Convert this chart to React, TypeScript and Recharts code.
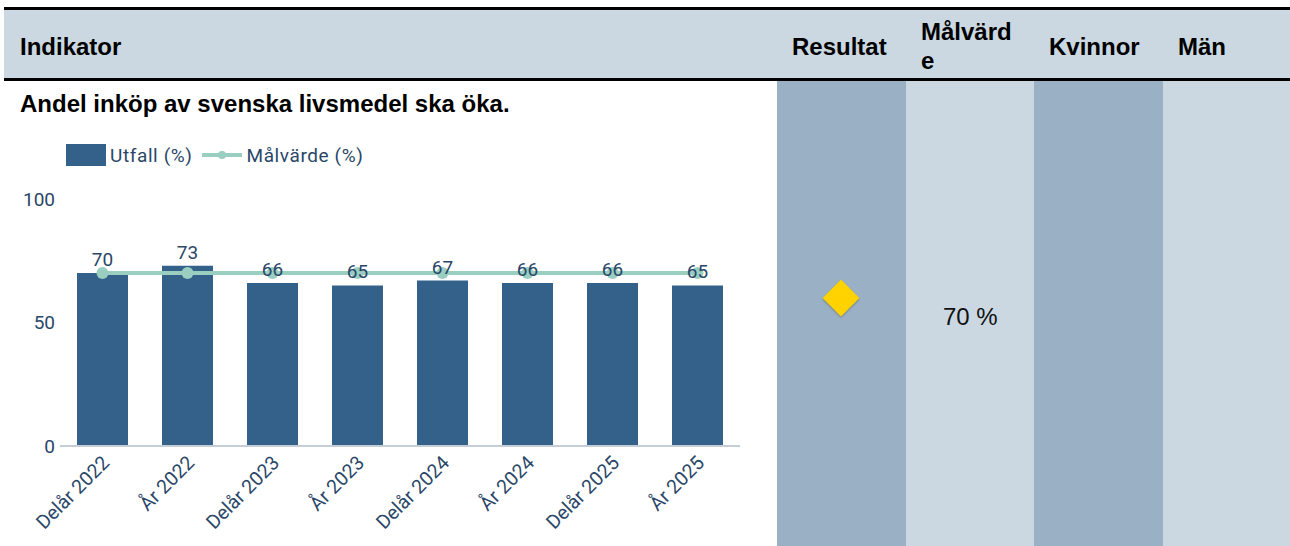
import React from "react";
import {
  Bar,
  ComposedChart,
  LabelList,
  Legend,
  Line,
  XAxis,
  YAxis,
} from "recharts";

// Utfall och målvärde per period (procent)
const perioder = [
  "Delår 2022",
  "År 2022",
  "Delår 2023",
  "År 2023",
  "Delår 2024",
  "År 2024",
  "Delår 2025",
  "År 2025",
];
const utfall = [70, 73, 66, 65, 67, 66, 66, 65];
const malvarde = [70, 70, 70, 70, 70, 70, 70, 70];
const yTicks = [0, 50, 100];

const data = perioder.map((p, i) => ({
  period: p,
  utfall: utfall[i],
  malvarde: malvarde[i],
}));

const BAR = "#33618a";
const LINE = "#99cec1";
const TEXT = "#2a4768";
const CHART_FONT = "Roboto, sans-serif";

const ROW_BG = "#cbd8e1";
const COL_DARK = "#9ab0c4";

function TickRot(props: any) {
  const { x, y, payload } = props;
  const tx = x + 8;
  const ty = y + 18;
  return (
    <text
      x={tx}
      y={ty}
      textAnchor="end"
      fill={TEXT}
      fontSize={19.5}
      fontFamily={CHART_FONT}
      transform={`rotate(-45, ${tx}, ${ty})`}
    >
      {payload.value}
    </text>
  );
}

function LegendContent() {
  const txt: React.CSSProperties = {
    fontFamily: CHART_FONT,
    fontSize: 19,
    color: TEXT,
    letterSpacing: 0.6,
  };
  return (
    <div style={{ display: "flex", alignItems: "center", height: 22 }}>
      <span style={{ width: 40, height: 22, background: BAR, display: "inline-block" }} />
      <span style={{ ...txt, marginLeft: 4 }}>Utfall (%)</span>
      <svg width={40} height={22} style={{ marginLeft: 10 }}>
        <line x1={0} y1={11} x2={40} y2={11} stroke={LINE} strokeWidth={4} />
        <circle cx={20} cy={11} r={4} fill={LINE} />
      </svg>
      <span style={{ ...txt, marginLeft: 4 }}>Målvärde (%)</span>
    </div>
  );
}

const head: React.CSSProperties = {
  position: "absolute",
  fontWeight: "bold",
  fontSize: 24,
  color: "#000",
  lineHeight: "29px",
  whiteSpace: "nowrap",
};

export default function App() {
  return (
    <div
      style={{
        position: "absolute",
        left: 0,
        top: 0,
        width: 1290,
        height: 546,
        overflow: "hidden",
        background: "#fff",
        fontFamily: "'Liberation Sans', Arial, sans-serif",
      }}
    >
      {/* tabellhuvud */}
      <div style={{ position: "absolute", left: 4, right: 0, top: 7, height: 3, background: "#000" }} />
      <div style={{ position: "absolute", left: 4, right: 0, top: 10, height: 68, background: ROW_BG }} />
      <div style={{ position: "absolute", left: 4, right: 0, top: 78, height: 3, background: "#000" }} />
      <div style={{ ...head, left: 20, top: 32 }}>Indikator</div>
      <div style={{ ...head, left: 792, top: 32 }}>Resultat</div>
      <div style={{ ...head, left: 921, top: 17, whiteSpace: "normal", width: 94, wordBreak: "break-all" }}>
        Målvärde
      </div>
      <div style={{ ...head, left: 1049, top: 32 }}>Kvinnor</div>
      <div style={{ ...head, left: 1178, top: 32 }}>Män</div>

      {/* kolumner */}
      <div style={{ position: "absolute", left: 777, width: 129, top: 81, bottom: 0, background: COL_DARK }} />
      <div style={{ position: "absolute", left: 906, width: 128, top: 81, bottom: 0, background: ROW_BG }} />
      <div style={{ position: "absolute", left: 1034, width: 129, top: 81, bottom: 0, background: COL_DARK }} />
      <div style={{ position: "absolute", left: 1163, width: 127, top: 81, bottom: 0, background: ROW_BG }} />

      <div
        style={{
          position: "absolute",
          left: 828,
          top: 285,
          width: 26,
          height: 26,
          background: "#ffd200",
          transform: "rotate(45deg)",
          boxShadow: "1px 1px 2px rgba(90,90,60,0.45)",
        }}
      />
      <div style={{ position: "absolute", left: 943, top: 303, fontSize: 24, color: "#111", whiteSpace: "nowrap" }}>
        70 %
      </div>

      <div style={{ ...head, left: 20, top: 89 }}>Andel inköp av svenska livsmedel ska öka.</div>

      <div style={{ position: "absolute", left: 0, top: 130 }}>
        <ComposedChart
          width={760}
          height={416}
          data={data}
          margin={{ top: 69, right: 20, left: 0, bottom: 10 }}
          barCategoryGap="20%"
        >
          <Legend
            layout="horizontal"
            verticalAlign="middle"
            align="center"
            content={<LegendContent />}
            wrapperStyle={{ top: 14, left: 66, width: 400 }}
          />
          <XAxis
            dataKey="period"
            height={90}
            interval={0}
            tickLine={false}
            tickSize={0}
            tickMargin={0}
            axisLine={{ stroke: "#c5cdd6", strokeWidth: 2 }}
            tick={<TickRot />}
          />
          <YAxis
            width={60}
            domain={[0, 100]}
            ticks={yTicks}
            axisLine={false}
            tickLine={false}
            tickSize={3}
            tickMargin={2}
            tick={{ fill: TEXT, fontSize: 19, fontFamily: CHART_FONT }}
          />
          <Bar dataKey="utfall" fill={BAR} isAnimationActive={false}>
            <LabelList
              dataKey="utfall"
              position="top"
              offset={7}
              fill={TEXT}
              fontSize={19}
              fontFamily={CHART_FONT}
            />
          </Bar>
          <Line
            dataKey="malvarde"
            type="linear"
            stroke={LINE}
            strokeWidth={4}
            dot={{ r: 6, fill: LINE, stroke: "none" }}
            activeDot={false}
            isAnimationActive={false}
          />
        </ComposedChart>
      </div>
    </div>
  );
}
